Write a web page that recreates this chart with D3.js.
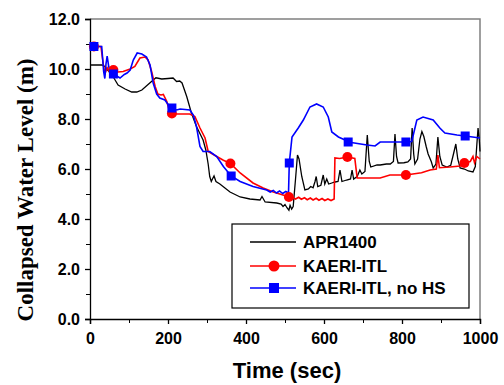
<!DOCTYPE html>
<meta charset="utf-8">
<title>Collapsed water level</title>
<script src="https://d3js.org/d3.v7.min.js"></script>
<style>
  body { margin: 0; background: #fff; }
  text { font-family: Arial, "Liberation Sans", sans-serif; font-weight: bold; }
</style>
<body>
<svg id="chart" width="504" height="385"></svg>
<script>
// time (sec), collapsed water level (m)
const apr1400 = [
  [0,10.16],[31,10.16],[38,10.1],[59,9.7],[72,9.36],[90,9.2],[107,9.08],[120,9.08],[133,9.16],
  [154,9.45],[169,9.65],[184,9.6],[200,9.62],[213,9.64],[222,9.5],[230,9.52],[236,9.44],[248,8.9],
  [260,8.24],[273,7.7],[290,7.16],[297,6.76],[303,6.2],[307,5.7],[311,5.5],[314,5.6],[318,5.72],
  [323,5.5],[333,5.4],[359,5.08],[385,4.88],[410,4.8],[436,4.76],[441,4.9],[449,4.68],[479,4.64],
  [490,4.6],[495,4.5],[500,4.58],[505,4.45],[510,4.35],[513,4.55],[517,4.4],[521,4.5],[527,5.6],
  [532,6.56],[536,6.4],[543,5.7],[551,5.16],[560,5.2],[566,5.3],[572,5.25],[577,5.5],[580,5.7],
  [584,5.3],[592,5.35],[598,5.76],[602,5.4],[607,5.6],[612,5.4],[620,5.44],[628,5.48],[636,5.5],
  [641,5.96],[646,5.5],[658,5.56],[668,5.6],[672,5.96],[676,5.6],[685,5.7],[692,5.96],[697,5.8],
  [705,5.9],[711,7.36],[716,6.3],[720,6.08],[736,6.16],[744,6.16],[760,6.2],[770,6.2],[778,6.3],
  [782,7.4],[786,6.5],[790,6.24],[805,6.25],[815,6.28],[822,6.4],[826,7.64],[830,6.6],[833,6.2],
  [840,6.4],[846,7.2],[851,7.5],[856,7.3],[862,6.9],[867,6.6],[875,6.3],[880,6.04],[887,6.2],
  [892,7.28],[897,6.5],[903,6.16],[915,6.08],[925,6.15],[932,6.6],[938,7.0],[943,6.4],[949,6.04],
  [960,6.0],[970,5.92],[982,5.88],[988,6.1],[992,7.0],[995,7.64],[998,7.2],[1000,6.7]
];
const kaeriItl = [
  [0,10.9],[28,10.9],[34,10.2],[38,9.8],[44,10.05],[50,9.9],[60,9.96],[72,9.88],[85,9.9],
  [103,10.0],[115,10.1],[128,10.44],[141,10.48],[149,10.36],[158,9.9],[167,9.3],[174,9.0],
  [182,8.96],[188,8.98],[197,8.7],[205,8.24],[210,8.22],[222,8.2],[256,8.2],[269,8.1],[282,7.64],
  [295,7.24],[303,6.7],[312,6.62],[325,6.5],[342,6.35],[360,6.22],[385,5.84],[418,5.44],[444,5.24],
  [470,5.08],[495,4.96],[510,4.88],[520,4.86],[527,4.8],[535,4.87],[542,4.79],[550,4.85],[557,4.77],
  [565,4.84],[572,4.76],[580,4.83],[587,4.75],[595,4.82],[602,4.74],[610,4.8],[618,4.74],[626,4.8],
  [628,6.44],[640,6.42],[660,6.48],[679,6.42],
  [685,5.64],[710,5.64],[744,5.64],[769,5.76],[810,5.76],[850,5.85],[872,5.96],[888,6.0],[892,6.56],
  [896,6.05],[923,6.08],[949,6.12],[960,6.24],[975,6.3],[982,6.5],[986,6.25],[992,6.5],[1000,6.4]
];
const kaeriNoHs = [
  [0,10.9],[30,10.9],[35,9.9],[38,9.62],[41,10.2],[44,10.52],[48,10.1],[54,9.76],[60,9.8],[77,9.64],
  [88,9.78],[95,9.84],[103,9.96],[111,10.36],[121,10.64],[133,10.6],[145,10.48],[154,10.16],
  [162,9.44],[171,9.0],[179,8.84],[192,8.76],[201,8.56],[210,8.44],[222,8.36],[231,8.4],[256,8.36],
  [265,8.16],[273,7.7],[282,6.9],[290,6.7],[307,6.7],[325,6.5],[342,6.1],[362,5.72],[385,5.5],
  [418,5.3],[453,5.16],[462,5.08],[470,5.14],[478,5.04],[486,5.12],[494,5.02],[502,5.1],[509,5.04],
  [511,6.24],[518,7.28],
  [534,7.64],[547,7.96],[564,8.48],[581,8.6],[598,8.48],[611,8.08],[620,7.48],[637,7.28],[654,7.16],
  [662,7.08],[710,6.96],[731,6.92],[744,7.08],[795,7.08],[810,7.08],[825,7.1],[838,7.96],[854,8.08],
  [880,7.96],[897,7.64],[910,7.44],[941,7.36],[962,7.32],[1000,7.24]
];

const redMarkers = [10, 60, 210, 360, 510, 660, 810, 960];
const blueMarkers = [10, 60, 210, 362, 511, 662, 810, 962];

const xTicks = [0, 200, 400, 600, 800, 1000];
const yTicks = [0, 2, 4, 6, 8, 10, 12];
const legendLabels = ["APR1400", "KAERI-ITL", "KAERI-ITL, no HS"];

const margin = {left: 90, top: 19, right: 24, bottom: 66};
const width = 504 - margin.left - margin.right;
const height = 385 - margin.top - margin.bottom;

const svg = d3.select("#chart");
const g = svg.append("g").attr("transform", `translate(${margin.left},${margin.top})`);

const x = d3.scaleLinear().domain([0, 1000]).range([0, width]);
const y = d3.scaleLinear().domain([0, 12]).range([height, 0]);

// frame: gray top and right
g.append("path")
  .attr("d", `M0,0H${width}V${height}`)
  .attr("fill", "none").attr("stroke", "#808080").attr("stroke-width", 1.5);

// minor ticks
g.append("g").attr("transform", `translate(0,${height})`)
  .call(d3.axisBottom(x).tickValues(d3.range(100, 1000, 200)).tickSize(4).tickFormat(""))
  .call(a => a.select(".domain").remove());
g.append("g")
  .call(d3.axisLeft(y).tickValues(d3.range(1, 12, 2)).tickSize(4).tickFormat(""))
  .call(a => a.select(".domain").remove());

const xAxis = g.append("g").attr("transform", `translate(0,${height})`)
  .call(d3.axisBottom(x).tickValues(xTicks).tickSize(5).tickPadding(9).tickFormat(d3.format("d")));
const yAxis = g.append("g")
  .call(d3.axisLeft(y).tickValues(yTicks).tickSize(5).tickPadding(5).tickFormat(d3.format(".1f")));
[xAxis, yAxis].forEach(a => {
  a.selectAll("text").style("font-size", "16px").attr("fill", "#000")
    .style("font-family", "Arial, 'Liberation Sans', sans-serif").style("font-weight", "bold");
  a.selectAll("line, path").attr("stroke", "#000").attr("stroke-width", 1.3);
});

const line = d3.line().x(d => x(d[0])).y(d => y(d[1]));

function valueAt(series, t) {
  const i = d3.bisector(d => d[0]).left(series, t);
  if (series[i][0] === t) return series[i][1];
  const a = series[i - 1], b = series[i];
  return a[1] + (b[1] - a[1]) * (t - a[0]) / (b[0] - a[0]);
}

g.append("path").datum(apr1400).attr("d", line)
  .attr("fill", "none").attr("stroke", "#000").attr("stroke-width", 1.3);
g.append("path").datum(kaeriItl).attr("d", line)
  .attr("fill", "none").attr("stroke", "#ff0000").attr("stroke-width", 1.6);
g.append("path").datum(kaeriNoHs).attr("d", line)
  .attr("fill", "none").attr("stroke", "#0000ff").attr("stroke-width", 1.6);

g.selectAll("circle.red").data(redMarkers).enter().append("circle")
  .attr("cx", t => x(t)).attr("cy", t => y(valueAt(kaeriItl, t)))
  .attr("r", 5).attr("fill", "#ff0000");
g.selectAll("rect.blue").data(blueMarkers).enter().append("rect")
  .attr("x", t => x(t) - 4.5).attr("y", t => y(valueAt(kaeriNoHs, t)) - 4.5)
  .attr("width", 9).attr("height", 9).attr("fill", "#0000ff");

// legend
const legend = svg.append("g").attr("transform", "translate(232,224)");
legend.append("rect").attr("width", 237).attr("height", 84)
  .attr("fill", "#fff").attr("stroke", "#000").attr("stroke-width", 1.2);
const colors = ["#000", "#ff0000", "#0000ff"];
const rowY = [18, 42, 64];
legendLabels.forEach((lab, i) => {
  legend.append("line").attr("x1", 18).attr("x2", 64).attr("y1", rowY[i]).attr("y2", rowY[i])
    .attr("stroke", colors[i]).attr("stroke-width", i ? 1.6 : 1.3);
  legend.append("text").attr("x", 71).attr("y", rowY[i] + 6).text(lab).style("font-size", "17px");
});
legend.append("circle").attr("cx", 42).attr("cy", rowY[1]).attr("r", 5.5).attr("fill", "#ff0000");
legend.append("rect").attr("x", 37).attr("y", rowY[2] - 5).attr("width", 10).attr("height", 10).attr("fill", "#0000ff");

// axis titles
svg.append("text").attr("x", 287).attr("y", 378).attr("text-anchor", "middle")
  .style("font-size", "22px").text("Time (sec)");
svg.append("text").attr("transform", "translate(33,190) rotate(-90)").attr("text-anchor", "middle")
  .style("font-family", "'Times New Roman', 'Liberation Serif', serif").style("font-size", "23px")
  .text("Collapsed Water Level (m)");
</script>
</body>
